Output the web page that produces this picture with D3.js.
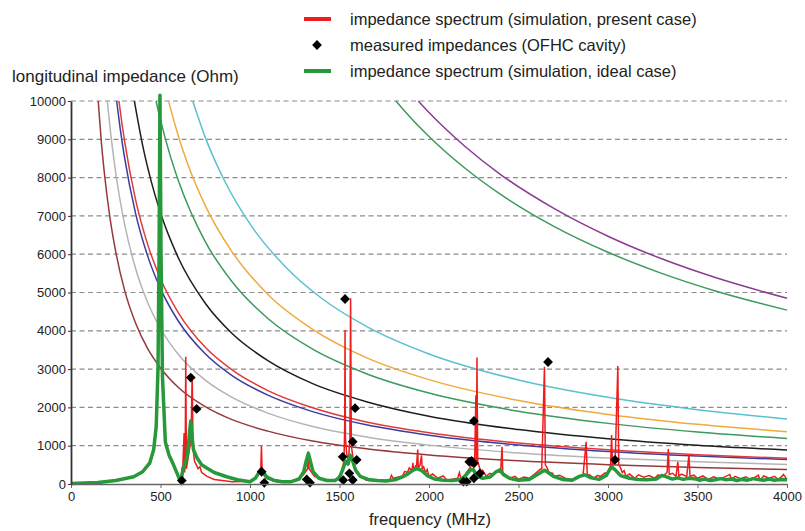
<!DOCTYPE html>
<html>
<head>
<meta charset="utf-8">
<script src="https://cdn.jsdelivr.net/npm/d3@7"></script>
<style>
  body { margin: 0; background: #fff; }
  svg text { font-family: "Liberation Sans", Arial, sans-serif; fill: #222; }
</style>
</head>
<body>
<svg id="chart" width="805" height="531"></svg>
<script>
// axis ticks
const xTicks = [0, 500, 1000, 1500, 2000, 2500, 3000, 3500, 4000];
const yTicks = [0, 1000, 2000, 3000, 4000, 5000, 6000, 7000, 8000, 9000, 10000];

const legendLabels = [
    'impedance spectrum (simulation, present case)',
    'measured impedances (OFHC cavity)',
    'impedance spectrum (simulation, ideal case)'
];

// threshold curves [frequency MHz, impedance Ohm]
const brownCurve  = [[152,10000],[170,8900],[190,7970],[215,7040],[250,6060],[300,5050],[360,4210],[430,3520],[500,3030],[600,2520],[750,2020],[900,1680],[1100,1380],[1350,1120],[1650,920],[2000,760],[2500,606],[3000,505],[3500,433],[4000,380]];
const grayCurve   = [[203,10000],[215,9440],[250,8120],[300,6770],[360,5640],[430,4720],[500,4060],[600,3380],[750,2710],[900,2260],[1100,1850],[1350,1500],[1650,1230],[2000,1015],[2500,812],[3000,677],[3500,580],[4000,508]];
const blueCurve   = [[255,10000],[275,9270],[300,8500],[360,7080],[430,5930],[500,5100],[600,4250],[750,3400],[900,2830],[1100,2320],[1350,1890],[1650,1545],[2000,1275],[2500,1020],[3000,850],[3500,729],[4000,638]];
const redCurve    = [[268,10000],[285,9400],[300,8930],[360,7440],[430,6230],[500,5360],[600,4470],[750,3570],[900,2980],[1100,2440],[1350,1990],[1650,1620],[2000,1340],[2500,1070],[3000,893],[3500,766],[4000,670]];
const blackCurve  = [[354,10000],[400,8850],[450,7870],[500,7080],[600,5900],[750,4720],[900,3930],[1100,3220],[1350,2620],[1650,2150],[2000,1770],[2500,1420],[3000,1180],[3500,1010],[4000,885]];
const greenCurve  = [[475,10000],[500,9500],[550,8640],[600,7920],[750,6330],[900,5280],[1100,4320],[1350,3520],[1650,2880],[2000,2375],[2500,1900],[3000,1583],[3500,1357],[4000,1188]];
const orangeCurve = [[545,10000],[600,9080],[650,8380],[750,7270],[900,6060],[1100,4950],[1350,4040],[1650,3300],[2000,2725],[2500,2180],[3000,1817],[3500,1557],[4000,1363]];
const cyanCurve   = [[680,10000],[750,9050],[850,7990],[1000,6790],[1200,5660],[1400,4850],[1650,4115],[2000,3395],[2500,2716],[3000,2263],[3500,1940],[4000,1698]];
const upperGreenCurve = [[1815,10000],[1900,9550],[2000,9075],[2200,8250],[2400,7560],[2700,6720],[3000,6050],[3300,5500],[3600,5040],[4000,4540]];
const purpleCurve = [[1940,10000],[2000,9700],[2200,8820],[2400,8080],[2700,7190],[3000,6470],[3300,5880],[3600,5390],[4000,4850]];

const thresholdCurves = [brownCurve, grayCurve, blueCurve, redCurve, blackCurve, greenCurve, orangeCurve, cyanCurve, upperGreenCurve, purpleCurve];
const curveColors     = ['#953a3a', '#b4b4b4', '#3c3c9e', '#e03a3a', '#1e1e1e', '#3b9a5c', '#f0aa3c', '#5cc0cf', '#3b9a5c', '#8c3c96'];

// simulated spectrum, present case
const presentSpectrum = [
    [0,10],[150,35],[250,85],[350,180],[400,300],[440,520],[462,860],[476,1420],[486,2850],[492,5700],[497,9600],[503,5700],
    [511,2650],[527,1050],[548,710],[571,490],[595,230],[610,50],[615,200],[625,500],[632,1330],[635,300],
    [638,600],[641,3320],[645,400],[655,700],[665,1000],[672,1500],[677,2850],[682,900],[690,600],[700,500],[710,400],[720,450],
    [730,300],[760,200],[800,120],[900,60],[1000,70],[1040,200],[1060,350],[1064,990],[1068,300],[1090,150],[1150,60],[1250,80],
    [1300,250],[1322,400],[1326,850],[1330,400],[1360,200],[1420,90],[1480,100],[1510,300],[1525,600],[1529,1500],[1531,4020],
    [1533,1200],[1540,800],[1550,600],[1558,1200],[1562,4850],[1566,1000],[1575,700],[1590,400],[1620,200],[1650,100],[1700,80],
    [1750,100],[1780,90],[1790,230],[1800,150],[1830,180],[1850,200],[1865,330],[1880,300],[1890,420],[1905,350],[1910,550],
    [1915,350],[1925,470],[1930,450],[1937,900],[1940,400],[1950,500],[1958,750],[1962,400],[1970,450],[1980,300],[1990,380],
    [2000,200],[2020,260],[2050,150],[2080,210],[2100,100],[2160,150],[2170,300],[2180,100],[2210,300],[2240,500],
    [2255,600],[2262,2320],[2265,600],[2268,3300],[2272,600],[2290,300],[2300,360],[2320,200],[2340,280],[2360,250],[2380,330],
    [2400,300],[2408,970],[2412,300],[2430,230],[2450,150],[2480,200],[2500,120],[2530,180],[2560,150],[2590,260],[2600,300],
    [2620,380],[2630,400],[2645,3060],[2650,500],[2660,420],[2670,300],[2690,280],[2700,200],[2730,230],[2760,150],[2800,120],
    [2830,190],[2860,200],[2878,1100],[2884,250],[2900,230],[2920,150],[2940,220],[2960,200],[2980,280],[3000,300],[3015,500],
    [3020,1280],[3025,500],[3040,600],[3055,3080],[3060,500],[3070,420],[3080,300],[3090,350],[3100,200],[3120,260],[3150,150],
    [3170,240],[3200,180],[3230,220],[3260,150],[3280,240],[3300,200],[3320,260],[3330,300],[3337,910],[3342,250],[3360,280],
    [3380,200],[3390,580],[3396,200],[3410,260],[3440,200],[3452,760],[3458,200],[3480,230],[3500,150],[3530,210],[3560,120],
    [3590,190],[3620,130],[3650,180],[3680,250],[3690,120],[3710,200],[3740,140],[3770,190],[3800,100],[3820,170],[3840,230],
    [3850,100],[3870,210],[3900,150],[3930,200],[3950,120],[3970,190],[3980,250],[4000,120]
];

// simulated spectrum, ideal case
const idealSpectrum = [
    [0,10],[150,40],[250,90],[350,190],[400,320],[440,550],[462,900],[476,1500],[486,3000],[492,6000],[497,10150],[503,6000],
    [511,2800],[527,1100],[548,750],[571,520],[595,250],[612,60],[618,150],[625,400],[635,500],[648,700],[656,1000],[663,1400],
    [669,1650],[676,1250],[684,900],[702,700],[730,500],[758,420],[800,300],[870,190],[930,110],[1000,60],[1030,150],[1050,300],
    [1063,400],[1075,300],[1095,180],[1130,100],[1180,60],[1230,60],[1275,130],[1300,320],[1315,620],[1326,800],[1337,600],
    [1352,320],[1385,150],[1430,90],[1475,90],[1500,170],[1520,400],[1535,600],[1548,520],[1560,750],[1572,620],[1590,360],
    [1615,200],[1660,120],[1710,90],[1760,80],[1810,110],[1855,190],[1890,290],[1915,370],[1935,400],[1960,350],[1990,220],
    [2030,130],[2080,100],[2130,90],[2180,120],[2210,250],[2235,380],[2248,370],[2270,200],[2300,150],[2340,180],[2375,320],
    [2397,370],[2415,250],[2450,150],[2500,100],[2560,120],[2610,260],[2645,360],[2660,320],[2695,200],[2745,120],[2800,100],
    [2840,200],[2870,240],[2900,170],[2950,120],[2990,220],[3010,380],[3022,440],[3040,370],[3070,220],[3120,150],[3170,120],
    [3220,110],[3270,130],[3300,220],[3320,200],[3360,130],[3390,160],[3420,120],[3450,150],[3480,140],[3510,100],[3540,130],
    [3570,90],[3600,110],[3630,140],[3660,110],[3690,130],[3720,90],[3750,120],[3780,100],[3810,140],[3840,120],[3870,100],
    [3900,130],[3930,100],[3960,120],[4000,110]
];

// measured impedances, OFHC cavity
const measuredPoints = [
    [619,90],[669,2780],[702,1960],[1065,320],[1080,30],[1317,120],[1335,35],[1521,100],[1518,710],[1531,4830],[1555,280],
    [1574,105],[1574,1105],[1587,1980],[1596,630],[2192,60],[2211,60],[2225,580],[2238,600],[2251,540],[2251,1645],[2251,150],
    [2285,280],[2665,3185],[3039,630]
];

const LEFT    = 71;
const RIGHT   = 787;
const TOP     = 101;
const BOTTOM  = 484;

const svg = d3.select('#chart');

const x = d3.scaleLinear().domain([0, 4000]).range([LEFT, RIGHT]);
const y = d3.scaleLinear().domain([0, 10000]).range([BOTTOM, TOP]);

// dashed grid
svg.append('g')
    .selectAll('line')
    .data(yTicks.filter(t => t > 0))
    .join('line')
    .attr('x1', LEFT).attr('x2', RIGHT)
    .attr('y1', d => y(d)).attr('y2', d => y(d))
    .attr('stroke', '#8c8c8c')
    .attr('stroke-width', 1.2)
    .attr('stroke-dasharray', '5,3.5');

const line = d3.line()
    .x(d => x(d[0]))
    .y(d => y(d[1]));

// threshold curves
svg.append('g')
    .selectAll('path')
    .data(thresholdCurves)
    .join('path')
    .attr('d', d => line.curve(d3.curveMonotoneX)(d))
    .attr('fill', 'none')
    .attr('stroke', (d, i) => curveColors[i])
    .attr('stroke-width', 1.5);

line.curve(d3.curveLinear);

svg.append('path')
    .attr('d', line(presentSpectrum))
    .attr('fill', 'none')
    .attr('stroke', '#ee1c1c')
    .attr('stroke-width', 1.5);

svg.append('path')
    .attr('d', line(idealSpectrum))
    .attr('fill', 'none')
    .attr('stroke', '#27993a')
    .attr('stroke-width', 3.5)
    .attr('stroke-linejoin', 'round');

const diamond = d3.symbol().type(d3.symbolSquare).size(48);

svg.append('g')
    .selectAll('path')
    .data(measuredPoints)
    .join('path')
    .attr('d', diamond)
    .attr('transform', d => `translate(${x(d[0])},${y(d[1])}) rotate(45)`)
    .attr('fill', '#000');

// axes
const xAxis = svg.append('g')
    .attr('transform', `translate(0,${BOTTOM})`)
    .call(d3.axisBottom(x).tickValues(xTicks).tickFormat(d3.format('d'))
        .tickSize(4).tickPadding(4).tickSizeOuter(0));
xAxis.select('.domain').attr('stroke', '#666').attr('stroke-width', 1.5);
xAxis.selectAll('.tick line').attr('stroke', '#666');
xAxis.selectAll('text').attr('font-size', 13).attr('fill', '#222');

const yAxis = svg.append('g')
    .attr('transform', `translate(${LEFT},0)`)
    .call(d3.axisLeft(y).tickValues(yTicks).tickFormat(d3.format('d'))
        .tickSize(3).tickPadding(2).tickSizeOuter(0));
yAxis.select('.domain').attr('stroke', '#333').attr('stroke-width', 1.8);
yAxis.selectAll('.tick line').attr('stroke', '#333');
yAxis.selectAll('text').attr('font-size', 13).attr('fill', '#222');

svg.append('text')
    .attr('x', 12).attr('y', 82)
    .attr('font-size', 17)
    .text('longitudinal impedance (Ohm)');

svg.append('text')
    .attr('x', 430).attr('y', 525)
    .attr('text-anchor', 'middle')
    .attr('font-size', 16.5)
    .text('frequency (MHz)');

// legend
const legendY = [19, 45, 71];
const legend = svg.append('g');

legend.append('line')
    .attr('x1', 304).attr('x2', 331).attr('y1', legendY[0]).attr('y2', legendY[0])
    .attr('stroke', '#ee1c1c').attr('stroke-width', 4);
legend.append('path')
    .attr('d', diamond)
    .attr('transform', `translate(317,${legendY[1]}) rotate(45)`)
    .attr('fill', '#000');
legend.append('line')
    .attr('x1', 304).attr('x2', 331).attr('y1', legendY[2]).attr('y2', legendY[2])
    .attr('stroke', '#27993a').attr('stroke-width', 4);

legend.selectAll('text')
    .data(legendLabels)
    .join('text')
    .attr('x', 350)
    .attr('y', (d, i) => legendY[i] + 6)
    .attr('font-size', 16.5)
    .text(d => d);
</script>
</body>
</html>
